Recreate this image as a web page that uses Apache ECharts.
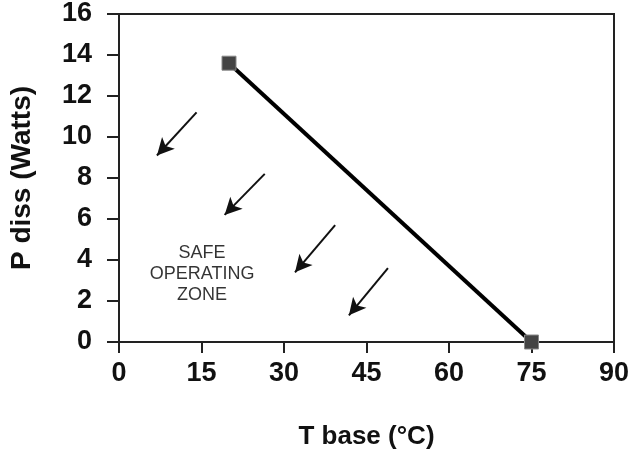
<!DOCTYPE html>
<html>
<head>
<meta charset="utf-8">
<script src="https://cdn.jsdelivr.net/npm/echarts@6/dist/echarts.min.js"></script>
<style>html,body{margin:0;padding:0;background:#fff}#c{width:629px;height:449px}</style>
</head>
<body>
<div id="c"></div>
<script>
// Derating line: T base (°C) vs P diss (Watts)
const tBase = [20, 75];
const pDiss = [13.6, 0];
// Arrow annotations: [tailX, tailY, headX, headY] in data units
const arrows = [
  [14.1, 11.2, 6.9, 9.1],
  [26.5, 8.2, 19.2, 6.2],
  [39.3, 5.7, 32.0, 3.4],
  [48.9, 3.6, 41.8, 1.3]
];
const zoneLabel = 'SAFE\nOPERATING\nZONE';
const zonePos = [15.1, 3.3];
const xTicks = [0, 15, 30, 45, 60, 75, 90];
const yTicks = [0, 2, 4, 6, 8, 10, 12, 14, 16];

const chart = echarts.init(document.getElementById('c'));
const font = '"Liberation Sans", Arial, sans-serif';
chart.setOption({
  backgroundColor: '#fff',
  animation: false,
  grid: {left: 119, right: 15, top: 14, bottom: 107, show: true, borderColor: '#222', borderWidth: 2,
         backgroundColor: 'transparent', containLabel: false, outerBoundsMode: 'none'},
  xAxis: {
    type: 'value', min: xTicks[0], max: xTicks[xTicks.length-1], interval: 15,
    name: 'T base (°C)', nameLocation: 'middle', nameGap: 82,
    nameTextStyle: {fontFamily: font, fontWeight: 'bold', fontSize: 26, color: '#111'},
    axisLine: {show: true, lineStyle: {color: '#222', width: 2}},
    axisTick: {show: true, inside: false, length: 11, lineStyle: {color: '#222', width: 2}},
    axisLabel: {margin: 18, fontFamily: font, fontWeight: 'bold', fontSize: 27, color: '#111'},
    splitLine: {show: false}
  },
  yAxis: {
    type: 'value', min: yTicks[0], max: yTicks[yTicks.length-1], interval: 2,
    name: 'P diss (Watts)', nameLocation: 'middle', nameGap: 83,
    nameTextStyle: {fontFamily: font, fontWeight: 'bold', fontSize: 28, color: '#111'},
    axisLine: {show: true, lineStyle: {color: '#222', width: 2}},
    axisTick: {show: true, inside: false, length: 12, lineStyle: {color: '#222', width: 2}},
    axisLabel: {margin: 27, fontFamily: font, fontWeight: 'bold', fontSize: 27, color: '#111'},
    splitLine: {show: false}
  },
  series: [
    {
      type: 'line',
      data: tBase.map((t, i) => [t, pDiss[i]]),
      lineStyle: {color: '#000', width: 4},
      symbol: 'rect', symbolSize: 14,
      itemStyle: {color: '#444', borderColor: '#888', borderWidth: 1},
      z: 5
    },
    {
      type: 'scatter',
      data: [],
      markLine: {
        silent: true,
        symbol: ['none', 'arrow'],
        symbolSize: [13, 17],
        label: {show: false},
        lineStyle: {color: '#111', width: 2, type: 'solid'},
        data: arrows.map(a => [{coord: [a[0], a[1]]}, {coord: [a[2], a[3]]}])
      }
    },
    {
      type: 'scatter',
      data: [zonePos],
      symbolSize: 0,
      label: {
        show: true, position: 'inside', formatter: zoneLabel,
        fontFamily: font, fontSize: 18, lineHeight: 21, color: '#000', align: 'center'
      }
    }
  ]
});
</script>
</body>
</html>
